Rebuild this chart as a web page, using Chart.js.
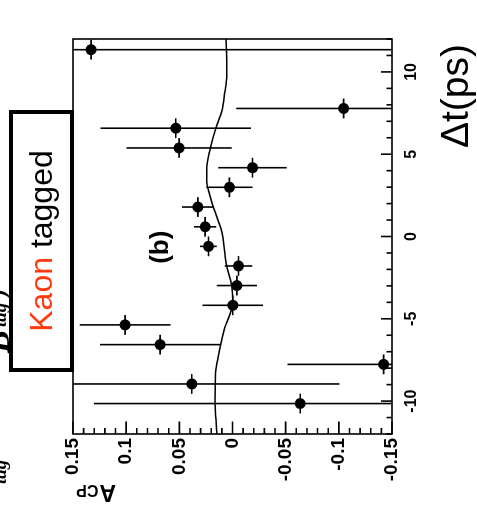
<!DOCTYPE html>
<html><head><meta charset="utf-8">
<script src="https://cdn.jsdelivr.net/npm/chart.js@4/dist/chart.umd.min.js"></script>
<style>
html,body{margin:0;padding:0;background:#fff;overflow:hidden;width:477px;height:529px;}
#wrap{position:absolute;left:0;top:0;width:529px;height:477px;transform-origin:0 0;transform:translateY(529px) rotate(-90deg);background:#fff;overflow:hidden;}
#c{position:absolute;left:0;top:0;}
#box{position:absolute;left:157px;top:9px;width:262px;height:65px;box-sizing:border-box;border:4px solid #000;background:#fff;display:flex;align-items:center;justify-content:center;font-family:"Liberation Sans",Arial,sans-serif;font-size:32px;color:#000;white-space:nowrap;}
#box .k{color:#ff3a0f;}
</style></head>
<body>
<div id="wrap">
<canvas id="c" width="529" height="477"></canvas>
<div id="box"><span class="k">Kaon</span>&nbsp;tagged</div>
</div>
<script>
// Data points (Δt in ps, A_CP)
const dtValues   = [-10.15, -8.96, -7.77, -6.57, -5.37, -4.18, -2.98, -1.79, -0.60, 0.59, 1.79, 2.99, 4.18, 5.38, 6.58, 7.78, 11.35];
const acpValues  = [-0.0637, 0.0383, -0.1421, 0.0681, 0.1010, -0.0003, -0.0041, -0.0056, 0.0226, 0.0257, 0.0326, 0.0029, -0.0188, 0.0502, 0.0533, -0.1045, 0.1330];
const acpErrors  = [0.194, 0.139, 0.0904, 0.0565, 0.0427, 0.0285, 0.0190, 0.0130, 0.0079, 0.0105, 0.0149, 0.0217, 0.0322, 0.0495, 0.0708, 0.1010, 0.300];
const dtHalfBin  = 0.6;
// Fit curve
const fitDt  = [-12, -11.1, -10.1, -8.3, -7.3, -5.65, -4.0, -3.0, -1.6, -0.2, 0.3, 1.33, 2.36, 3.33, 4.18, 5.4, 6.6, 7.6, 8.8, 9.65, 10.75, 12];
const fitAcp = [0.0146, 0.0156, 0.0165, 0.0159, 0.0134, 0.0077, -0.0002, 0.0008, 0.0061, 0.0087, 0.0102, 0.0156, 0.0206, 0.0243, 0.0243, 0.0206, 0.0156, 0.0102, 0.0071, 0.0055, 0.0055, 0.0061];
// Axes
const dtTicks  = [-10, -5, 0, 5, 10];
const acpTicks = [0.15, 0.1, 0.05, 0, -0.05, -0.1, -0.15];
const xTitle = 'Δt(ps)';
const yTitleMain = 'A';
const yTitleSub = 'CP';
const panelLabel = '(b)';

const SANS = '"Liberation Sans", Arial, Helvetica, sans-serif';
const SERIF = '"Liberation Serif", "Times New Roman", serif';

const overlay = {
  id: 'overlay',
  beforeDatasetsDraw(chart) {
    const {ctx, chartArea: a, scales: {x, y}} = chart;
    ctx.save();
    ctx.beginPath(); ctx.rect(a.left, a.top, a.right - a.left, a.bottom - a.top); ctx.clip();
    ctx.strokeStyle = '#000'; ctx.lineWidth = 1.6;
    for (let i = 0; i < dtValues.length; i++) {
      const px = x.getPixelForValue(dtValues[i]);
      const py = y.getPixelForValue(acpValues[i]);
      const y1 = y.getPixelForValue(acpValues[i] + acpErrors[i]);
      const y2 = y.getPixelForValue(acpValues[i] - acpErrors[i]);
      const x1 = x.getPixelForValue(dtValues[i] - dtHalfBin);
      const x2 = x.getPixelForValue(dtValues[i] + dtHalfBin);
      ctx.beginPath();
      ctx.moveTo(px, y1); ctx.lineTo(px, y2);
      ctx.moveTo(x1, py); ctx.lineTo(x2, py);
      ctx.stroke();
    }
    ctx.restore();
  },
  afterDraw(chart) {
    const {ctx, chartArea: a, scales: {x, y}} = chart;
    ctx.save();
    ctx.strokeStyle = '#000'; ctx.lineWidth = 1.6;
    ctx.strokeRect(a.left, a.top, a.right - a.left, a.bottom - a.top);
    // inward ticks on Δt axis
    ctx.beginPath();
    for (let t = -12; t <= 12; t++) {
      const px = x.getPixelForValue(t);
      const len = (t % 5 === 0) ? 11 : 5.5;
      ctx.moveTo(px, a.bottom); ctx.lineTo(px, a.bottom - len);
    }
    // inward ticks on A_CP axis
    for (let k = -15; k <= 15; k++) {
      const py = y.getPixelForValue(k / 100);
      const len = (k % 5 === 0) ? 12.5 : 6;
      ctx.moveTo(a.left, py); ctx.lineTo(a.left + len, py);
    }
    ctx.stroke();
    ctx.fillStyle = '#000';
    // x title
    ctx.font = '39px ' + SANS;
    ctx.textAlign = 'right'; ctx.textBaseline = 'alphabetic';
    ctx.fillText(xTitle, 485, 468);
    // y title
    ctx.save();
    ctx.translate(44, 116);
    ctx.rotate(-Math.PI / 2);
    ctx.textAlign = 'left';
    ctx.font = 'bold 23px ' + SANS;
    ctx.fillText(yTitleMain, 0, 0);
    const w = ctx.measureText(yTitleMain).width;
    ctx.font = 'bold 16px ' + SANS;
    ctx.fillText(yTitleSub, w + 1, 0);
    ctx.restore();
    // panel label
    ctx.font = 'bold 26px ' + SANS;
    ctx.textAlign = 'center'; ctx.textBaseline = 'middle';
    ctx.fillText(panelLabel, x.getPixelForValue(-0.65), y.getPixelForValue(0.067));
    // clipped fragments of neighbouring text
    ctx.textAlign = 'left'; ctx.textBaseline = 'alphabetic';
    ctx.font = 'italic bold 34px ' + SERIF;
    ctx.fillText('B', 176, 9);
    ctx.font = 'italic bold 19px ' + SERIF;
    ctx.fillText('tag', 202, 6);
    ctx.fillText('tag', 45, 6);
    ctx.font = 'italic bold 24px ' + SERIF;
    ctx.fillText(')', 232, 6);
    ctx.restore();
  }
};

new Chart(document.getElementById('c'), {
  type: 'scatter',
  data: {
    datasets: [
      {
        label: 'fit',
        data: fitDt.map((t, i) => ({x: t, y: fitAcp[i]})),
        showLine: true,
        borderColor: '#000',
        borderWidth: 1.5,
        pointRadius: 0,
        cubicInterpolationMode: 'monotone',
        fill: false
      },
      {
        label: 'data',
        data: dtValues.map((t, i) => ({x: t, y: acpValues[i]})),
        pointRadius: 5.5,
        pointBackgroundColor: '#000',
        pointBorderColor: '#000',
        pointBorderWidth: 0,
        showLine: false
      }
    ]
  },
  options: {
    responsive: false,
    devicePixelRatio: 1,
    animation: false,
    events: [],
    layout: {padding: {top: 73, right: 39, bottom: 0, left: 0}},
    plugins: {legend: {display: false}, tooltip: {enabled: false}},
    scales: {
      x: {
        type: 'linear', position: 'bottom', min: -12, max: 12,
        afterBuildTicks: s => { s.ticks = dtTicks.map(v => ({value: v})); },
        afterFit: s => { s.height = 85; },
        grid: {display: false, drawTicks: false},
        border: {display: false},
        ticks: {color: '#000', padding: 10, maxRotation: 0, autoSkip: false,
                font: {family: SANS, size: 16, weight: 'bold'},
                callback: v => String(v)}
      },
      y: {
        type: 'linear', position: 'left', min: -0.15, max: 0.15,
        afterBuildTicks: s => { s.ticks = acpTicks.map(v => ({value: v})); },
        afterFit: s => { s.width = 95; },
        grid: {display: false, drawTicks: false},
        border: {display: false},
        ticks: {color: '#000', padding: 4, autoSkip: false,
                font: {family: SANS, size: 19, weight: 'bold'},
                callback: v => String(v)}
      }
    }
  },
  plugins: [overlay]
});
</script>
</body></html>
